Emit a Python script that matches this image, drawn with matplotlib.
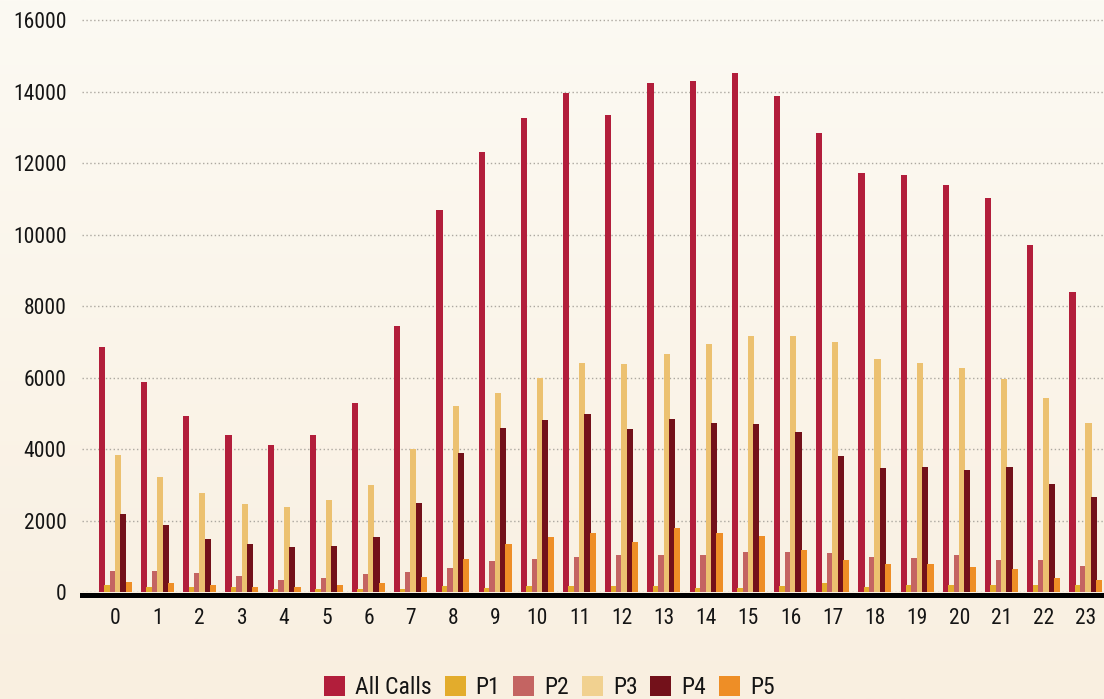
import numpy as np
import matplotlib
matplotlib.use("Agg")
import matplotlib.pyplot as plt
from matplotlib.patches import Patch

# ─── DATA ──────────────────────────────────────────────────────────────────
hours = [str(h) for h in range(24)]

all_calls = [6850, 5870, 4930, 4400, 4100, 4400, 5280, 7450, 10700, 12300, 13250, 13950,
             13350, 14230, 14290, 14520, 13880, 12850, 11720, 11670, 11380, 11030, 9700, 8380]
p1 = [190, 130, 130, 130, 80, 80, 80, 70, 180, 120, 180, 180,
      180, 180, 120, 120, 180, 240, 140, 190, 190, 190, 190, 190]
p2 = [590, 590, 540, 440, 340, 400, 500, 570, 680, 880, 920, 970,
      1030, 1030, 1030, 1120, 1120, 1080, 990, 940, 1040, 890, 890, 740]
p3 = [3830, 3220, 2770, 2470, 2380, 2570, 3000, 4000, 5200, 5570, 5990, 6420,
      6370, 6650, 6950, 7150, 7150, 7000, 6520, 6420, 6270, 5970, 5430, 4740]
p4 = [2180, 1880, 1480, 1340, 1270, 1290, 1540, 2480, 3900, 4600, 4800, 4990,
      4550, 4840, 4740, 4690, 4490, 3810, 3460, 3510, 3410, 3510, 3010, 2660]
p5 = [290, 240, 190, 130, 130, 190, 240, 430, 920, 1330, 1540, 1640,
      1400, 1800, 1640, 1580, 1170, 890, 780, 780, 690, 640, 400, 340]

series = [("All Calls", all_calls), ("P1", p1), ("P2", p2),
          ("P3", p3), ("P4", p4), ("P5", p5)]
bar_colors = ["#b21e3b", "#e3ac2c", "#c46462", "#ecc170", "#73111a", "#ee8e26"]
legend_colors = ["#b21e3b", "#e3ac2c", "#c46462", "#f1d190", "#73111a", "#ee8e26"]

# ─── STYLE ─────────────────────────────────────────────────────────────────
plt.rcParams['font.family'] = ['Roboto Condensed', 'DejaVu Sans']
TXT = "#151515"

fig = plt.figure(figsize=(11.04, 6.99), dpi=100)

# background gradient
bg = fig.add_axes([0, 0, 1, 1], zorder=-10)
grad = np.linspace(0, 1, 256).reshape(-1, 1)
top_c = np.array([0xfc, 0xfa, 0xf3]) / 255
bot_c = np.array([0xf9, 0xef, 0xe0]) / 255
img = top_c + (bot_c - top_c) * grad[..., None]
bg.imshow(img, aspect="auto", extent=[0, 1, 0, 1])
bg.axis("off")

ax = fig.add_axes([82 / 1104, 107 / 699, 1 - 82 / 1104, (592 - 13) / 699])
ax.set_facecolor("none")

x = np.arange(len(hours))
step = 0.127
width = 0.145
for i, ((name, vals), col) in enumerate(zip(series, bar_colors)):
    ax.bar(x + (i - 2.5) * step, vals, width=width, color=col, label=name,
           linewidth=0, zorder=3)

ax.set_ylim(0, 16200)
ax.set_xlim(-0.79, 23.43)
ax.set_yticks(np.arange(0, 16001, 2000))
ax.set_xticks(x)
ax.set_xticklabels(hours)

ax.yaxis.grid(True, linestyle=(0, (1, 1.8)), linewidth=1.0, color="#aca8a0", zorder=0)
ax.xaxis.grid(False)

for s in ["top", "right", "left"]:
    ax.spines[s].set_visible(False)
ax.spines["bottom"].set_linewidth(3.6)
ax.spines["bottom"].set_color("#000000")
ax.spines["bottom"].set_position(("outward", 1.8))
ax.spines["bottom"].set_zorder(5)

ax.tick_params(axis="both", length=0, labelsize=15.5, labelcolor=TXT)
ax.tick_params(axis="x", pad=10)
ax.tick_params(axis="y", pad=11)

handles = [Patch(facecolor=c, edgecolor="none") for c in legend_colors]
labels = [name for name, _ in series]
fig.legend(handles, labels, loc="center", bbox_to_anchor=(0.4977, 11.5 / 699),
           ncol=6, frameon=False, fontsize=17, handlelength=0.89, handleheight=0.89,
           handletextpad=0.42, columnspacing=0.55, labelcolor=TXT,
           borderpad=0, borderaxespad=0)

plt.savefig("out.png", dpi=100)
